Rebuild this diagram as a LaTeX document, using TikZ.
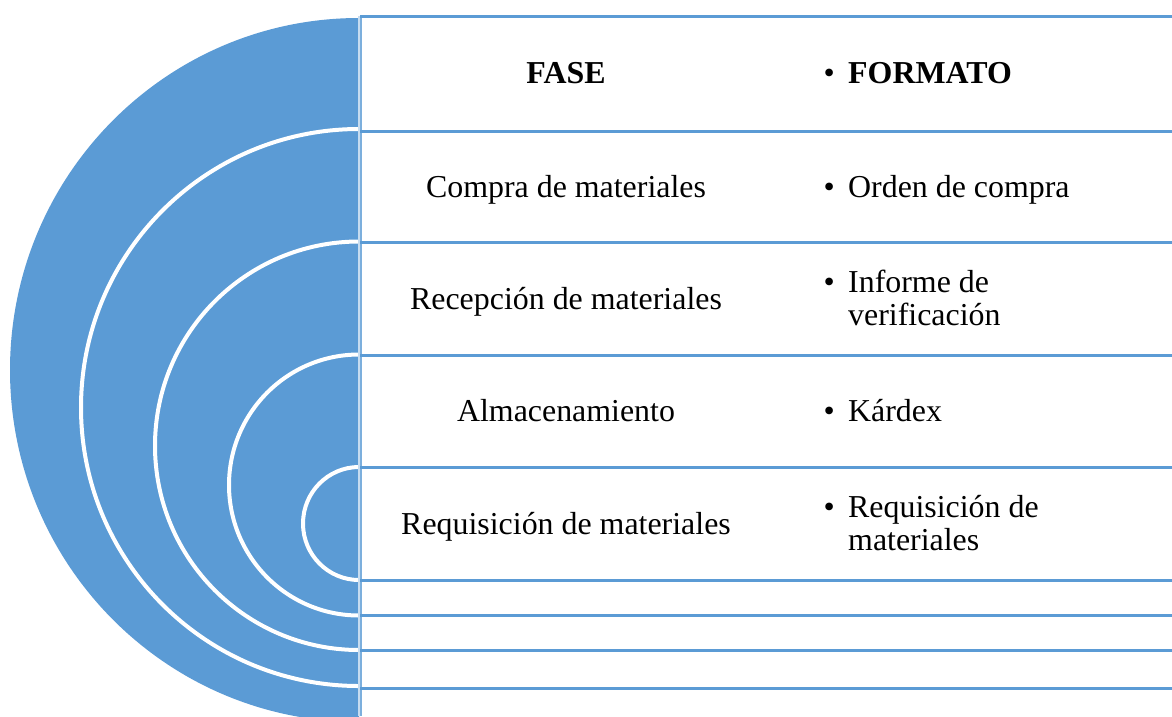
\documentclass[tikz,border=0pt]{standalone}
\usepackage{fontspec}
\setmainfont{Liberation Serif}
\definecolor{blu}{HTML}{5B9BD5}
\newcommand{\bul}[1]{\makebox[24.5pt][l]{•}#1}
\newcommand{\ind}{\hspace*{24.5pt}}
\tikzset{
  x=1pt,y=-1pt,
  disc/.style={fill=blu,draw=none},
  ring/.style={draw=white,line width=4pt,fill=none},
  rowline/.style={draw=blu,line width=3pt},
  fase/.style={font=\fontsize{31.9}{33}\selectfont,anchor=base,inner sep=0pt},
  fmt/.style={font=\fontsize{31.9}{33}\selectfont,anchor=base west,align=left,inner sep=0pt},
}
\begin{document}
\begin{tikzpicture}
\useasboundingbox (0,0) rectangle (1172,716);
\clip (0,0) rectangle (1172,716);
\fill[white] (0,0) rectangle (1172,716);
% half discs
\fill[disc] (359,18) arc[start angle=270,end angle=90,x radius=349,y radius=352] -- cycle;
\draw[ring] (359,129) arc[start angle=270,end angle=90,x radius=278,y radius=278.5];
\draw[ring] (359,241.5) arc[start angle=270,end angle=90,x radius=204,y radius=204.25];
\draw[ring] (359,354.5) arc[start angle=270,end angle=90,x radius=130,y radius=130.5];
\draw[ring] (359,467) arc[start angle=270,end angle=90,x radius=56,y radius=56.5];
% table rules
\coordinate (vt) at (359,16);
\coordinate (vb) at (359,716);
\coordinate (wt) at (361,15);
\coordinate (wb) at (361,716);
\draw[draw=blu!35,line width=2pt] (vt) -- (vb);
\draw[draw=blu!80,line width=2pt] (wt) -- (wb);
\foreach \n/\yy in {a/16.5,b/131,c/242,d/355,e/467,f/580.3,g/615.7,h/650.7,i/688}{
  \coordinate (l\n) at (360,\yy);
  \coordinate (r\n) at (1172,\yy);
  \draw[rowline] (l\n) -- (r\n);
}
% left column
\node[fase] (f0) at (566,83.5) {\textbf{FASE}};
\node[fase] (f1) at (566,197) {Compra de materiales};
\node[fase] (f2) at (566,309) {Recepción de materiales};
\node[fase] (f3) at (566,421.5) {Almacenamiento};
\node[fase] (f4) at (566,534.5) {Requisición de materiales};
% right column
\node[fmt] (g0) at (823.5,83.5) {\bul{\textbf{FORMATO}}};
\node[fmt] (g1) at (823.5,197) {\bul{Orden de compra}};
\node[fmt] (g2) at (823.5,325) {\bul{Informe de}\\\ind verificación};
\node[fmt] (g3) at (823.5,421.5) {\bul{Kárdex}};
\node[fmt] (g4) at (823.5,550) {\bul{Requisición de}\\\ind materiales};
\end{tikzpicture}
\end{document}
